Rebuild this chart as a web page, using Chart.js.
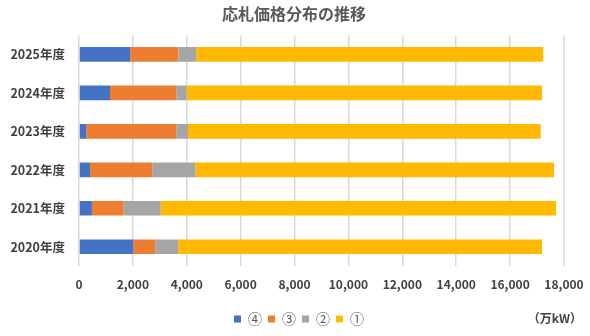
<!DOCTYPE html>
<html lang="ja">
<head>
<meta charset="utf-8">
<title>応札価格分布の推移</title>
<script src="https://cdn.jsdelivr.net/npm/chart.js@4.4.1/dist/chart.umd.min.js"></script>
<style>
  html, body { margin:0; padding:0; background:#fff; }
  #wrap { width:590px; height:336px; }
</style>
</head>
<body>
<div id="wrap"><canvas id="grafico" width="590" height="336"></canvas></div>
<script>
// ===== Dados (em 万kW) =====
const anos = ['2025年度','2024年度','2023年度','2022年度','2021年度','2020年度'];
const faixa4 = [1900, 1150, 270, 410, 480, 2015];
const faixa3 = [1790, 2460, 3340, 2310, 1175, 815];
const faixa2 = [660, 385, 435, 1600, 1375, 855];
const faixa1 = [12880, 13190, 13090, 13310, 14675, 13500];
const nomes = ['④','③','②','①'];
const cores = ['#4472C4','#ED7D31','#A5A5A5','#FFB900'];
const eixoMax = 18000, eixoPasso = 2000;

const FONTE = "'Noto Sans CJK JP', 'Noto Sans', sans-serif";
Chart.defaults.font.family = FONTE;

// unidade no canto inferior direito + ajuste fino de legenda/título
const unidade = {
  id:'unidade',
  afterLayout(chart){
    if (chart.legend){ chart.legend.left += 17; chart.legend.right += 17; }
    if (chart.titleBlock){ chart.titleBlock.left += 12; chart.titleBlock.right += 12; }
  },
  afterDraw(chart){
    const ctx = chart.ctx;
    ctx.save();
    ctx.font = 'bold 12px ' + FONTE;
    ctx.fillStyle = '#404040';
    ctx.textAlign = 'right';
    ctx.textBaseline = 'middle';
    ctx.fillText('（万kW）', 582, 318);
    ctx.restore();
  }
};

const series = [faixa4, faixa3, faixa2, faixa1];
const datasets = series.map((d,i)=>({
  label:nomes[i], data:d, backgroundColor:cores[i], borderWidth:0,
  categoryPercentage:0.5, barPercentage:0.76
}));

new Chart(document.getElementById('grafico').getContext('2d'), {
  type:'bar',
  data:{ labels:anos, datasets },
  options:{
    indexAxis:'y',
    responsive:false,
    animation:false,
    layout:{ padding:{ left:0, right:26, top:0, bottom:0 } },
    plugins:{
      title:{ display:true, text:'応札価格分布の推移', color:'#595959',
        font:{ size:16, weight:'bold' }, padding:{ top:4, bottom:12 } },
      legend:{ position:'bottom',
        labels:{ boxWidth:7, boxHeight:7, padding:6, color:'#595959', font:{ size:14 } } },
      tooltip:{ enabled:false }
    },
    scales:{
      x:{
        stacked:true, min:0, max:eixoMax,
        ticks:{ stepSize:eixoPasso, padding:11, color:'#404040', font:{ size:12, weight:'bold' },
          callback:v=>v.toLocaleString('en-US') },
        grid:{ color:'#D9D9D9', lineWidth:1.5, drawTicks:false },
        border:{ display:false },
        afterFit:s=>{ s.height = 40; s.paddingLeft = 0; s.paddingRight = 0; }
      },
      y:{
        stacked:true,
        ticks:{ padding:14, color:'#404040', font:{ size:12.5, weight:'bold' } },
        grid:{ display:false, drawTicks:false },
        border:{ display:false },
        afterFit:s=>{ s.width = 79; }
      }
    }
  },
  plugins:[unidade]
});
</script>
</body>
</html>
